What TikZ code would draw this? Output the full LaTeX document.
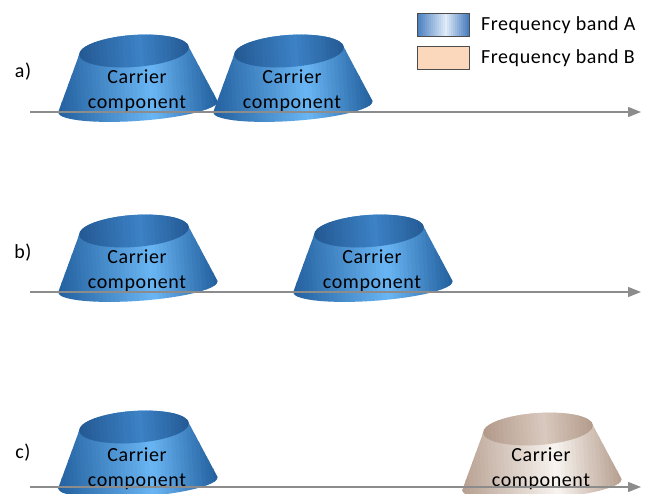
\documentclass[tikz,border=0pt]{standalone}
\usepackage{fontspec}
\setmainfont{Carlito}[LetterSpace=3]
\usetikzlibrary{arrows.meta,positioning}
\definecolor{Adark}{HTML}{2461A0}
\definecolor{Alight}{HTML}{6AB6F4}
\definecolor{Atopdark}{HTML}{245A94}
\definecolor{Atoplight}{HTML}{3C82C6}
\definecolor{Bdark}{HTML}{B8A192}
\definecolor{Blight}{HTML}{F8F4F0}
\definecolor{Btopdark}{HTML}{B39B8B}
\definecolor{Btoplight}{HTML}{D9C9BE}
\definecolor{keyAblue}{HTML}{4A7FC0}
\definecolor{keyAlight}{HTML}{E0ECF8}
\definecolor{keyBfill}{HTML}{FBD7BC}
\definecolor{axisgray}{HTML}{8C8C8C}
\begin{document}
\begin{tikzpicture}[x=1pt,y=1pt]
    \tikzset{cctext/.style = {font=\fontsize{20}{25}\selectfont, align=center}}
    \tikzset{rowlabel/.style = {font=\fontsize{20}{22}\selectfont}}
    \tikzset{axis/.style = {draw=axisgray, line width=1.2pt, -{Triangle[length=13pt,width=10pt]}}}
    \tikzset{keybox/.style = {draw=black!70, line width=1pt, minimum width=52pt, minimum height=23pt}}
    \tikzset{pics/carrier/.style = {code = {
        \begin{scope}
            \clip (-55,0) -- (-80,-56) arc[start angle=180, end angle=360, x radius=80, y radius=14]
                -- (55,0) arc[start angle=0, end angle=180, x radius=55, y radius=16] -- cycle;
            \foreach \i in {0,...,39} {
                \pgfmathsetmacro\t{\i/39}
                \pgfmathsetmacro\p{\t<0.6 ? 100*(0.6-\t)/0.6 : 100*(\t-0.6)/0.4}
                \fill[#1dark!\p!#1light] (-80+4*\i,18) rectangle (-75.4+4*\i,-74);
            }
        \end{scope}
        \begin{scope}
            \clip (0,0) ellipse[x radius=55, y radius=16];
            \foreach \i in {0,...,27} {
                \pgfmathsetmacro\t{\i/27}
                \pgfmathsetmacro\p{\t<0.55 ? 100*(0.55-\t)/0.55 : 100*(\t-0.55)/0.45}
                \fill[#1topdark!\p!#1toplight] (-55+4*\i,17) rectangle (-50.4+4*\i,-17);
            }
        \end{scope}
    }}}
    \useasboundingbox (0,0) rectangle (648,-494);

    % legend
    \foreach \i in {0,...,25} {
        \pgfmathsetmacro\p{\i<14 ? 100*(14-\i)/14 : 100*(\i-14)/11}
        \fill[keyAblue!\p!keyAlight] (417+2*\i,-14) rectangle (419.4+2*\i,-37);
    }
    \node[keybox] (keyA) at (443,-25.5) {};
    \node[keybox, fill=keyBfill] (keyB) at (443,-58) {};
    \node[rowlabel, right=8pt of keyA] (keyAtext) {Frequency band A};
    \node[rowlabel, right=8pt of keyB] (keyBtext) {Frequency band B};

    % a)
    \node[rowlabel] (la) at (23,-72) {a)};
    \pic[rotate=4] at (134,-51) {carrier=A};
    \pic[rotate=4] at (289,-51) {carrier=A};
    \node[cctext] (a1) at (137,-91) {Carrier\\component};
    \node[cctext] (a2) at (292,-91) {Carrier\\component};
    \coordinate (a0) at (30,-112);
    \coordinate (aend) at (641,-112);
    \draw[axis] (a0) -- (aend);

    % b)
    \node[rowlabel] (lb) at (23,-253) {b)};
    \pic[rotate=4] at (134,-231) {carrier=A};
    \pic[rotate=4] at (369,-231) {carrier=A};
    \node[cctext] (b1) at (137,-271) {Carrier\\component};
    \node[cctext] (b2) at (372,-271) {Carrier\\component};
    \coordinate (b0) at (30,-292);
    \coordinate (bend) at (641,-292);
    \draw[axis] (b0) -- (bend);

    % c)
    \node[rowlabel] (lc) at (23,-453) {c)};
    \pic[rotate=4] at (134,-427) {carrier=A};
    \pic[rotate=4] at (538,-429) {carrier=B};
    \node[cctext] (c1) at (137,-469) {Carrier\\component};
    \node[cctext] (c2) at (541,-469) {Carrier\\component};
    \coordinate (c0) at (30,-487);
    \coordinate (cend) at (641,-487);
    \draw[axis] (c0) -- (cend);
\end{tikzpicture}
\end{document}
